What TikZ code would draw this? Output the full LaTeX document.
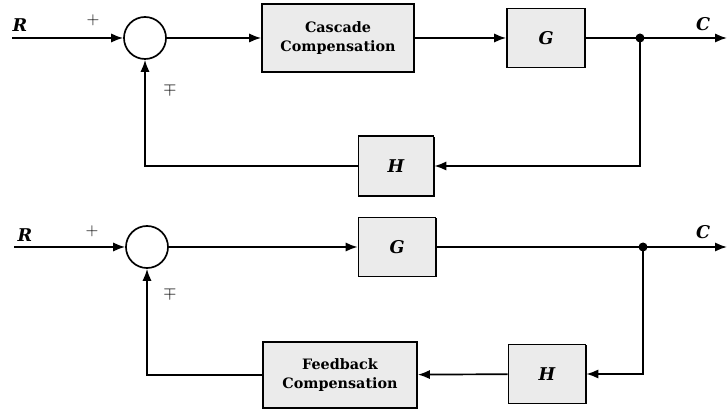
\documentclass[tikz,border=0pt]{standalone}
\usepackage{fontspec}
\newfontfamily\blockfont{DejaVu Serif}
\usetikzlibrary{arrows.meta,shadows}

\tikzset{
  blk/.style={draw, line width=1.2pt, fill=black!8, inner sep=0pt,
    drop shadow={shadow xshift=0.7pt, shadow yshift=-0.7pt, fill=black, opacity=1}},
  sumj/.style={draw, circle, line width=1.2pt, fill=white, minimum size=1.05cm, inner sep=0pt},
  wire/.style={line width=1.2pt},
  sig/.style={wire, -{Latex[length=8.5pt,width=6.5pt]}},
  lbl/.style={font=\blockfont\fontsize{12.5}{14}\selectfont\bfseries\itshape},
  sgn/.style={font=\fontsize{13}{15}\selectfont},
  comp/.style={font=\blockfont\fontsize{10.2}{14}\selectfont\bfseries, align=center}
}

\begin{document}
\begin{tikzpicture}[x=0.025cm, y=-0.025cm]
\useasboundingbox (0,0) rectangle (728,411);

% cascade compensation
\coordinate (r1) at (12,38);
\node[sumj] (s1) at (145,38) {};
\node[blk, comp, minimum width=3.8cm, minimum height=1.7cm] (cc) at (338,38) {Cascade\\Compensation};
\node[blk, lbl, minimum width=1.95cm, minimum height=1.475cm] (g1) at (546,38) {G};
\node[blk, lbl, minimum width=1.875cm, minimum height=1.5cm] (h1) at (396,166) {H};
\coordinate (d1) at (640,38);
\coordinate (c1) at (727,38);
\fill (d1) circle (3.2pt);

\node[lbl] (rl1) at (20,25) {R};
\node[lbl] (cl1) at (703,24) {C};
\node[sgn] (p1) at (93,20) {$+$};
\node[sgn] (m1) at (170,89) {$\mp$};

\draw[sig] (r1) -- (s1);
\draw[sig] (s1) -- (cc);
\draw[sig] (cc) -- (g1);
\draw[wire] (g1) -- (d1);
\draw[sig] (d1) -- (c1);
\draw[sig] (d1) |- (h1.east);
\draw[sig] (h1.west) -| (s1.south);

% feedback compensation
\coordinate (r2) at (14,247);
\node[sumj] (s2) at (147,247) {};
\node[blk, lbl, minimum width=1.925cm, minimum height=1.475cm] (g2) at (397,247) {G};
\node[blk, lbl, minimum width=1.925cm, minimum height=1.475cm] (h2) at (547,374) {H};
\node[blk, comp, minimum width=3.85cm, minimum height=1.65cm] (fc) at (340,375) {Feedback\\Compensation};
\coordinate (d2) at (643,247);
\coordinate (c2) at (727,247);
\fill (d2) circle (3.2pt);

\node[lbl] (rl2) at (25,235) {R};
\node[lbl] (cl2) at (703,232) {C};
\node[sgn] (p2) at (92,231) {$+$};
\node[sgn] (m2) at (170,293) {$\mp$};

\draw[sig] (r2) -- (s2);
\draw[sig] (s2) -- (g2);
\draw[wire] (g2) -- (d2);
\draw[sig] (d2) -- (c2);
\draw[sig] (d2) |- (h2.east);
\draw[sig] (h2) -- (fc);
\draw[sig] (fc.west) -| (s2.south);
\end{tikzpicture}
\end{document}
